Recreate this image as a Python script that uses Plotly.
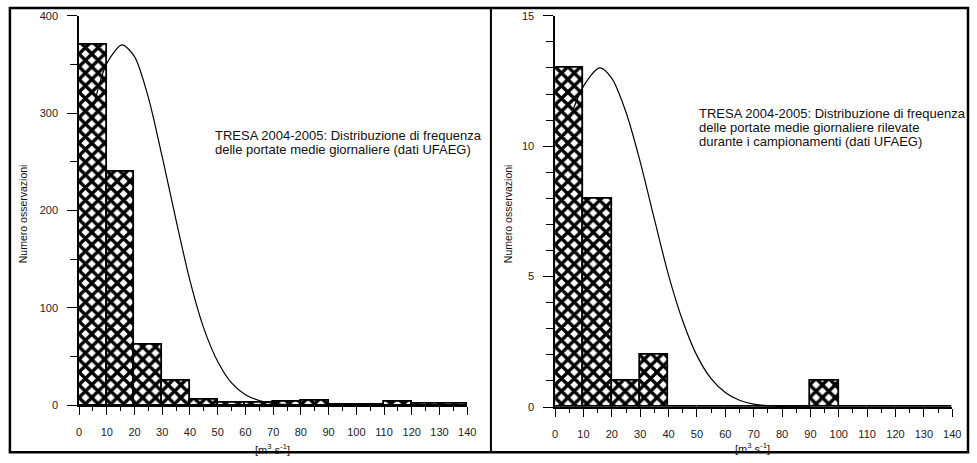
import plotly.graph_objects as go

W, H = 977, 463

# ---- data ----
bin_left = [0, 10, 20, 30, 40, 50, 60, 70, 80, 90, 100, 110, 120, 130]
counts_all = [370, 240, 62, 25, 6, 3, 3, 4, 5, 1, 1, 4, 2, 2]
counts_samp = [13, 8, 1, 2, 0, 0, 0, 0, 0, 1, 0, 0, 0, 0]

curve_x_all = [5.3, 10, 15.5, 20, 25, 30, 35, 40, 45, 50, 55, 60, 65, 70, 75, 80, 85, 90]
curve_y_all = [308, 351, 370, 358, 316, 255, 190, 128, 79, 45, 23, 11, 5, 2, 0.7, 0.2, 0.05, 0]

curve_x_samp = [5, 10, 15.8, 20, 25, 30, 35, 40, 45, 50, 55, 60, 65, 70, 75, 80, 85, 90]
curve_y_samp = [11.0, 12.3, 13.0, 12.6, 11.3, 9.4, 7.2, 5.05, 3.3, 1.97, 1.09, 0.56, 0.26, 0.11, 0.05, 0.02, 0.005, 0]

x_ticks = [0, 10, 20, 30, 40, 50, 60, 70, 80, 90, 100, 110, 120, 130, 140]

title_all = ["TRESA 2004-2005: Distribuzione di frequenza",
             "delle portate medie giornaliere (dati UFAEG)"]
title_samp = ["TRESA 2004-2005: Distribuzione di frequenza",
              "delle portate medie giornaliere rilevate",
              "durante i campionamenti (dati UFAEG)"]

FONT = "Liberation Sans, Arial, sans-serif"
centers = [b + 5 for b in bin_left]

bar_style = dict(
    width=10,
    marker=dict(color="white",
                line=dict(color="black", width=1.8),
                pattern=dict(shape="x", fgcolor="black", bgcolor="white",
                             fgopacity=1, fillmode="replace",
                             size=9, solidity=0.6)),
    showlegend=False, hoverinfo="skip",
)

fig = go.Figure()
fig.add_trace(go.Bar(x=centers, y=counts_all, xaxis="x", yaxis="y", **bar_style))
fig.add_trace(go.Scatter(x=curve_x_all, y=curve_y_all, mode="lines", xaxis="x", yaxis="y",
                         line=dict(color="black", width=1.2, shape="spline", smoothing=0.8),
                         showlegend=False, hoverinfo="skip"))
fig.add_trace(go.Bar(x=centers, y=counts_samp, xaxis="x2", yaxis="y2", **bar_style))
fig.add_trace(go.Scatter(x=curve_x_samp, y=curve_y_samp, mode="lines", xaxis="x2", yaxis="y2",
                         line=dict(color="black", width=1.2, shape="spline", smoothing=0.8),
                         showlegend=False, hoverinfo="skip"))

def xax(domain, anchor):
    return dict(domain=domain, anchor=anchor, range=[0, 140], tickvals=x_ticks,
                ticks="outside", ticklen=8, tickcolor="black", tickwidth=1,
                showline=True, linecolor="black", linewidth=1.5,
                showgrid=False, zeroline=False,
                minor=dict(dtick=5, tick0=0, ticks="outside", ticklen=4,
                           tickcolor="black", tickwidth=1, showgrid=False),
                tickfont=dict(family=FONT, size=11, color="#222"),
                ticklabelstandoff=8)

def yax(domain, anchor, rng, dtick, mdtick):
    return dict(domain=domain, anchor=anchor, range=rng, dtick=dtick, tick0=0,
                ticks="outside", ticklen=10, tickcolor="black", tickwidth=1,
                showline=True, linecolor="black", linewidth=1.5,
                showgrid=False, zeroline=False,
                minor=dict(dtick=mdtick, tick0=0, ticks="outside", ticklen=7,
                           tickcolor="black", tickwidth=1, showgrid=False),
                tickfont=dict(family=FONT, size=11, color="#222"),
                ticklabelstandoff=7)

yd_l = [1 - 410 / H, 1 - 10 / H]
yd_r = [1 - 411.7 / H, 1 - 10 / H]

annotations = []
def add_text(px, py, text, size=12, angle=0, xanchor="left", yanchor="middle"):
    annotations.append(dict(xref="paper", yref="paper", x=px / W, y=1 - py / H,
                            text=text, showarrow=False, xanchor=xanchor, yanchor=yanchor,
                            textangle=angle, borderpad=0,
                            font=dict(family=FONT, size=size, color="#111")))

for i, t in enumerate(title_all):
    add_text(214, 133 + 14 * i, t, size=13)
for i, t in enumerate(title_samp):
    add_text(704, 110 + 14.5 * i, t, size=13)

add_text(21, 213, "Numero osservazioni", size=10.5, angle=-90, xanchor="center")
add_text(512, 213, "Numero osservazioni", size=10.5, angle=-90, xanchor="center")
add_text(273, 447, "[m<sup>3</sup> s<sup>-1</sup>]", size=11, xanchor="center", yanchor="top")
add_text(759, 446, "[m<sup>3</sup> s<sup>-1</sup>]", size=11, xanchor="center", yanchor="top")

shapes = [
    dict(type="rect", xref="paper", yref="paper", x0=7 / W, x1=1.0, y0=1 - 458 / H, y1=1 - 2 / H,
         line=dict(color="black", width=2.5), fillcolor="rgba(0,0,0,0)", layer="above"),
    dict(type="line", xref="paper", yref="paper", x0=494 / W, x1=494 / W, y0=1 - 458 / H, y1=1 - 2 / H,
         line=dict(color="black", width=2), layer="above"),
]

fig.update_layout(
    width=W, height=H,
    margin=dict(l=0, r=0, t=0, b=0),
    paper_bgcolor="white", plot_bgcolor="white",
    xaxis=xax([77 / W, 470 / W], "y"),
    yaxis=yax(yd_l, "x", [0, 400], 100, 50),
    xaxis2=xax([559 / W, 961 / W], "y2"),
    yaxis2=yax(yd_r, "x2", [0, 15], 5, 1),
    bargap=0,
    annotations=annotations,
    shapes=shapes,
)

fig.write_html("out.html")
